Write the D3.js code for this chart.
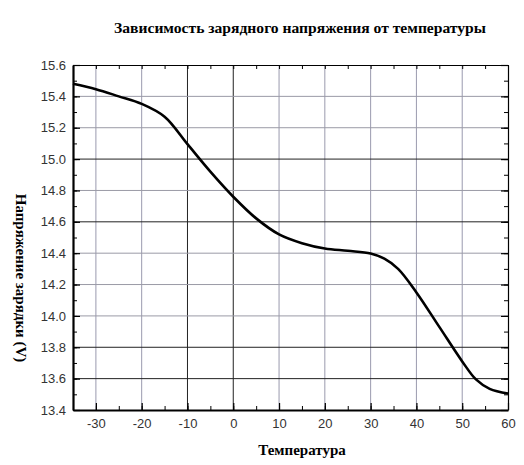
<!DOCTYPE html>
<html>
<head>
<meta charset="utf-8">
<script src="https://cdn.jsdelivr.net/npm/d3@7"></script>
<style>
  body { margin: 0; background: #fff; }
  svg { display: block; }
</style>
</head>
<body>
<div id="chart"></div>
<script>
// data
var temps = [-35, -30, -25, -20, -15, -10, -5, 0, 5, 10, 15, 20, 25, 30, 33, 36, 40, 45, 50, 53, 56, 60];
var volts = [15.48, 15.446, 15.40, 15.352, 15.27, 15.095, 14.92, 14.76, 14.622, 14.52, 14.464, 14.43, 14.415, 14.398, 14.365, 14.30, 14.15, 13.93, 13.71, 13.595, 13.535, 13.505];
var xTicks = [-30, -20, -10, 0, 10, 20, 30, 40, 50, 60];
var yTicks = [13.4, 13.6, 13.8, 14.0, 14.2, 14.4, 14.6, 14.8, 15.0, 15.2, 15.4, 15.6];

var title = "Зависимость зарядного напряжения от температуры";
var xTitle = "Температура";
var yTitle = "Напряжение зарядки (V)";

// gridlines that come out darker in the original
var darkX = [-10, 0];
var darkY = [15.0, 14.6, 13.8, 13.6];

var margin = {top: 65, right: 16, bottom: 55, left: 73},
  width = 524 - margin.left - margin.right,
  height = 465 - margin.top - margin.bottom;

var svg = d3.select("#chart")
  .append("svg")
    .attr("width", 524)
    .attr("height", 465);

var g = svg.append("g")
  .attr("transform", "translate(" + margin.left + "," + margin.top + ")");

var x = d3.scaleLinear().domain([-35, 60]).range([0, width]);
var y = d3.scaleLinear().domain([13.4, 15.6]).range([height, 0]);

var minorX = d3.range(-35, 61, 5);
var minorY = d3.range(134, 157, 1).map(function(d) { return d / 10; });

// gridlines
g.append("g").selectAll("line")
  .data(xTicks.filter(function(d) { return d > -35 && d < 60; }))
  .enter().append("line")
    .attr("x1", function(d) { return x(d); })
    .attr("x2", function(d) { return x(d); })
    .attr("y1", 0)
    .attr("y2", height)
    .style("stroke", function(d) { return darkX.indexOf(d) >= 0 ? "#222" : "#9a9aae"; })
    .style("stroke-width", 1);

g.append("g").selectAll("line")
  .data(yTicks.filter(function(d) { return d > 13.4 && d < 15.6; }))
  .enter().append("line")
    .attr("x1", 0)
    .attr("x2", width)
    .attr("y1", function(d) { return y(d); })
    .attr("y2", function(d) { return y(d); })
    .style("stroke", function(d) { return darkY.indexOf(d) >= 0 ? "#222" : "#9a9aa6"; })
    .style("stroke-width", 1);

// axes, ticks pointing inward
function styleAxis(sel, w) {
  sel.select(".domain").style("stroke", "#000").style("stroke-width", w);
  sel.selectAll(".tick line").style("stroke", "#000").style("stroke-width", 1.2);
  sel.selectAll("text")
    .style("font-family", "'Liberation Sans', Arial, sans-serif")
    .style("font-size", "13px")
    .style("fill", "#333");
}

function minor(s) {
  s.select(".domain").remove();
  s.selectAll("line").style("stroke", "#000");
}

// minor ticks
g.append("g")
  .attr("transform", "translate(0," + height + ")")
  .call(d3.axisBottom(x).tickValues(minorX).tickSize(-4).tickFormat(""))
  .call(minor);
g.append("g")
  .call(d3.axisTop(x).tickValues(minorX).tickSize(-4).tickFormat(""))
  .call(minor);
g.append("g")
  .call(d3.axisLeft(y).tickValues(minorY).tickSize(-4).tickFormat(""))
  .call(minor);
g.append("g")
  .attr("transform", "translate(" + width + ",0)")
  .call(d3.axisRight(y).tickValues(minorY).tickSize(-4).tickFormat(""))
  .call(minor);

// major ticks and labels
g.append("g")
  .attr("transform", "translate(0," + height + ")")
  .call(d3.axisBottom(x).tickValues(xTicks).tickSize(-7).tickSizeOuter(0).tickPadding(9)
    .tickFormat(function(d) { return String(d); }))
  .call(styleAxis, 2.2);

g.append("g")
  .call(d3.axisLeft(y).tickValues(yTicks).tickSize(-7).tickSizeOuter(0).tickPadding(7)
    .tickFormat(d3.format(".1f")))
  .call(styleAxis, 2.2);

g.append("g")
  .call(d3.axisTop(x).tickValues(xTicks).tickSize(0).tickSizeOuter(0).tickFormat(""))
  .call(styleAxis, 1.2);

g.append("g")
  .attr("transform", "translate(" + width + ",0)")
  .call(d3.axisRight(y).tickValues(yTicks).tickSize(-7).tickSizeOuter(0).tickFormat(""))
  .call(styleAxis, 1.2);

// the curve
var line = d3.line()
  .x(function(d, i) { return x(temps[i]); })
  .y(function(d) { return y(d); })
  .curve(d3.curveCatmullRom.alpha(0.5));

g.append("path")
  .datum(volts)
  .attr("d", line)
  .style("fill", "none")
  .style("stroke", "#000")
  .style("stroke-width", 2.6)
  .style("stroke-linejoin", "round");

// titles
svg.append("text")
  .attr("x", 300)
  .attr("y", 33)
  .attr("text-anchor", "middle")
  .style("font-family", "'Liberation Serif', 'Times New Roman', serif")
  .style("font-weight", "bold")
  .style("font-size", "15.6px")
  .text(title);

svg.append("text")
  .attr("x", 302)
  .attr("y", 455)
  .attr("text-anchor", "middle")
  .style("font-family", "'Liberation Serif', 'Times New Roman', serif")
  .style("font-weight", "bold")
  .style("font-size", "15px")
  .text(xTitle);

svg.append("text")
  .attr("transform", "translate(16,278) rotate(90)")
  .attr("text-anchor", "middle")
  .style("font-family", "'Liberation Serif', 'Times New Roman', serif")
  .style("font-weight", "bold")
  .style("font-size", "15px")
  .text(yTitle);
</script>
</body>
</html>
